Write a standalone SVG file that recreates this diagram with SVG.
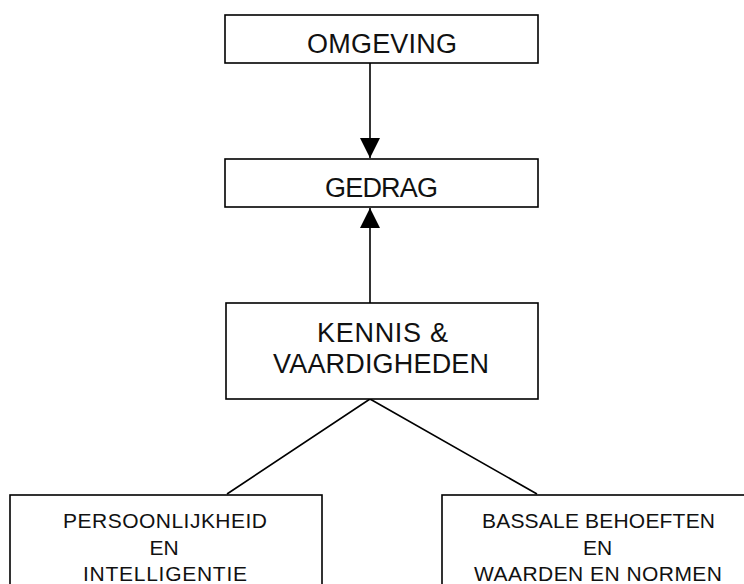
<svg xmlns="http://www.w3.org/2000/svg" width="744" height="584" viewBox="0 0 744 584">
<style>
.box{fill:#fff;stroke:#000;stroke-width:1.6}
.t{font-family:"Liberation Sans",Arial,sans-serif;fill:#111;text-anchor:middle}
.big{font-size:27px}
.small{font-size:21px}
.conn{stroke:#000;stroke-width:1.6;fill:none}
</style>
<defs>
<marker id="ah" markerWidth="20" markerHeight="20" refX="20" refY="10" orient="auto" markerUnits="userSpaceOnUse">
<path d="M0,0 L20,10 L0,20 z" fill="#000"/>
</marker>
</defs>
<rect width="744" height="584" fill="#fff"/>
<g id="connectors">
<line class="conn" x1="370" y1="63" x2="370" y2="158" marker-end="url(#ah)"/>
<line class="conn" x1="370" y1="303" x2="370" y2="208" marker-end="url(#ah)"/>
<polyline class="conn" points="227,494 370,399 537,494"/>
</g>
<g id="omgeving">
<rect class="box" x="225" y="15" width="313" height="48"/>
<text class="t big" x="382" y="53" textLength="150" lengthAdjust="spacing">OMGEVING</text>
</g>
<g id="gedrag">
<rect class="box" x="225" y="159" width="313" height="48"/>
<text class="t big" x="381.5" y="197" textLength="113" lengthAdjust="spacing">GEDRAG</text>
</g>
<g id="kennis">
<rect class="box" x="226" y="303" width="312" height="96"/>
<text class="t big" x="382.5" y="342" textLength="131" lengthAdjust="spacing">KENNIS &amp;</text>
<text class="t big" x="381" y="373" textLength="216" lengthAdjust="spacing">VAARDIGHEDEN</text>
</g>
<g id="persoonlijkheid">
<rect class="box" x="10" y="495" width="312" height="110"/>
<text class="t small" x="165" y="528" textLength="204" lengthAdjust="spacing">PERSOONLIJKHEID</text>
<text class="t small" x="164" y="555">EN</text>
<text class="t small" x="165" y="581" textLength="164" lengthAdjust="spacing">INTELLIGENTIE</text>
</g>
<g id="behoeften">
<rect class="box" x="442" y="495" width="312" height="110"/>
<text class="t small" x="598.5" y="528" textLength="233" lengthAdjust="spacing">BASSALE BEHOEFTEN</text>
<text class="t small" x="597.5" y="555">EN</text>
<text class="t small" x="598" y="581" textLength="248" lengthAdjust="spacing">WAARDEN EN NORMEN</text>
</g>
</svg>
